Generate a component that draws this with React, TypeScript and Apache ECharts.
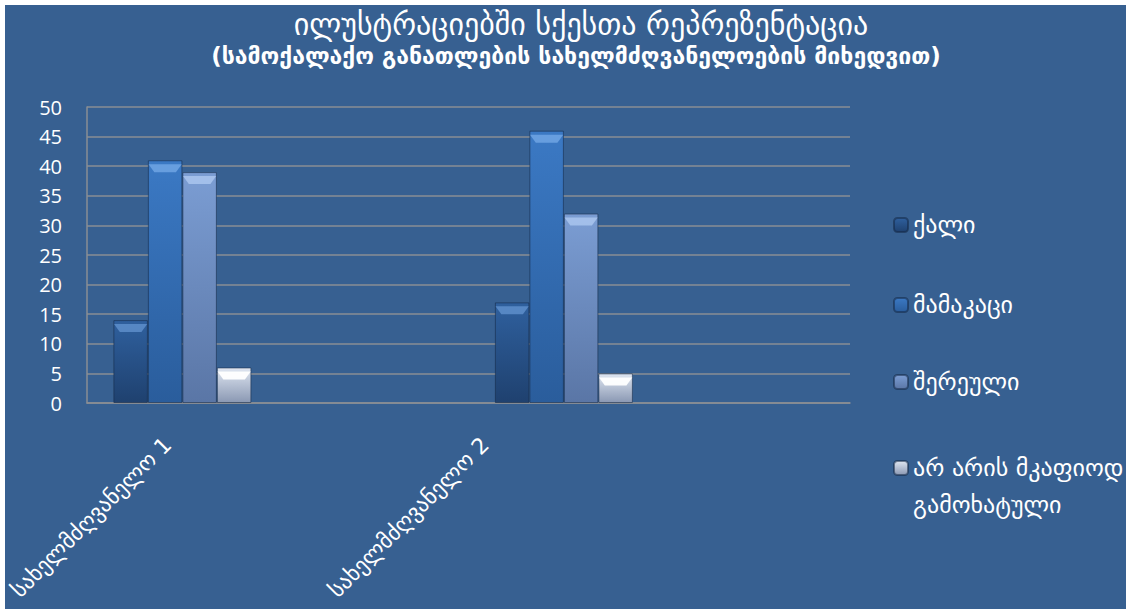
import React, { useEffect, useRef } from "react";
import * as echarts from "echarts";

const categories = ["სახელმძღვანელო 1", "", "სახელმძღვანელო 2", ""];
const seriesNames = ["ქალი", "მამაკაცი", "შერეული", "არ არის მკაფიოდ გამოხატული"];
const femaleValues = [14, null, 17, null];
const maleValues = [41, null, 46, null];
const mixedValues = [39, null, 32, null];
const unclearValues = [6, null, 5, null];
const yMin = 0;
const yMax = 50;
const yStep = 5;
const titleLine1 = "ილუსტრაციებში სქესთა რეპრეზენტაცია";
const titleLine2 = "(სამოქალაქო განათლების სახელმძღვანელოების მიხედვით)";

const FONT = "DejaVu Sans";
const BG = "#376091";

const grad = (top: string, bottom: string) =>
  new echarts.graphic.LinearGradient(0, 0, 0, 1, [
    { offset: 0, color: top },
    { offset: 1, color: bottom },
  ]);

const seriesColors = [
  ["#2f609e", "#1f416f"],
  ["#3b79c4", "#2a5d9c"],
  ["#7b9dd3", "#5a76a6"],
  ["#dfe6f1", "#8a98b3"],
];
const bevelColors = [
  "rgba(120,170,230,0.55)",
  "rgba(140,190,245,0.55)",
  "rgba(190,215,250,0.6)",
  "rgba(255,255,255,0.95)",
];

export default function App() {
  const ref = useRef<HTMLDivElement>(null);
  useEffect(() => {
    if (!ref.current) return;
    const chart = echarts.init(ref.current, null, { renderer: "svg" });
    const values = [femaleValues, maleValues, mixedValues, unclearValues];
    const barSeries: any[] = values.map((data, i) => ({
      type: "bar",
      name: seriesNames[i],
      data,
      barWidth: 34.5,
      barGap: "0%",
      itemStyle: {
        color: grad(seriesColors[i][0], seriesColors[i][1]),
        borderColor: "rgba(20,40,70,0.55)",
        borderWidth: 1,
      },
    }));
    const bevelSeries: any[] = values.map((data, i) => ({
      type: "pictorialBar",
      name: "bevel" + i,
      data,
      barGap: "0%",
      barWidth: 34.5,
      symbol: "path://M0,0 L40,0 L33,8 L7,8 Z",
      symbolSize: [33, 8],
      symbolPosition: "end",
      symbolOffset: [0, "50%"],
      itemStyle: { color: bevelColors[i] },
      silent: true,
      z: 3,
    }));
    const legendTops = [223 - 15, 303 - 15, 380 - 15];
    const legends: any[] = seriesNames.slice(0, 3).map((n, i) => ({
      data: [n],
      orient: "vertical",
      left: 888,
      top: legendTops[i],
      padding: 0,
      itemWidth: 14,
      itemHeight: 14,
      selectedMode: false,
      textStyle: { color: "#ffffff", fontSize: 24, fontFamily: FONT },
    }));
    legends.push({
      data: [seriesNames[3]],
      orient: "vertical",
      left: 888,
      top: 463 - 55.5,
      padding: 0,
      itemWidth: 14,
      itemHeight: 14,
      selectedMode: false,
      formatter: () => " \nარ არის მკაფიოდ\nგამოხატული",
      textStyle: {
        color: "#ffffff",
        fontSize: 24,
        fontFamily: FONT,
        lineHeight: 37,
      },
    });
    const labelCats = categories.filter((c) => c !== "");
    chart.setOption({
      animation: false,
      backgroundColor: BG,
      title: [
        {
          text: titleLine1,
          left: 576,
          top: 4,
          textAlign: "center",
          padding: 0,
          textStyle: { color: "#ffffff", fontSize: 30, fontWeight: "normal", fontFamily: FONT },
        },
        {
          text: titleLine2,
          left: 571,
          top: 39,
          textAlign: "center",
          padding: 0,
          textStyle: { color: "#ffffff", fontSize: 23, fontWeight: "bold", fontFamily: FONT },
        },
      ],
      legend: legends,
      grid: [
        { left: 82, top: 102, width: 763, height: 296, containLabel: false },
        { left: 150, top: 102, width: 330, height: 296, containLabel: false },
      ],
      xAxis: [
        {
          type: "category",
          data: categories,
          axisLine: { lineStyle: { color: "#8a8e94", width: 1.5 } },
          axisTick: { show: false },
          axisLabel: { show: false },
        },
        {
          type: "category",
          gridIndex: 1,
          data: labelCats,
          boundaryGap: false,
          axisLine: { show: false },
          axisTick: { show: false },
          splitLine: { show: false },
          axisLabel: {
            interval: 0,
            rotate: 45,
            margin: 38,
            color: "#ffffff",
            fontSize: 22,
            fontFamily: FONT,
          },
        },
      ],
      yAxis: [
        {
          type: "value",
          min: yMin,
          max: yMax,
          interval: yStep,
          axisLine: { show: true, lineStyle: { color: "#8a8e94", width: 1.5 } },
          axisTick: { show: false },
          splitLine: { lineStyle: { color: "#8a8e94", width: 1.5 } },
          axisLabel: { color: "#ffffff", fontSize: 20, margin: 25, fontFamily: "Open Sans" },
        },
        {
          type: "value",
          gridIndex: 1,
          min: yMin,
          max: yMax,
          show: false,
        },
      ],
      series: [...barSeries, ...bevelSeries],
    });
    return () => chart.dispose();
  }, []);
  return (
    <div
      ref={ref}
      style={{ position: "fixed", left: 5, top: 5, width: 1121, height: 604 }}
    />
  );
}
